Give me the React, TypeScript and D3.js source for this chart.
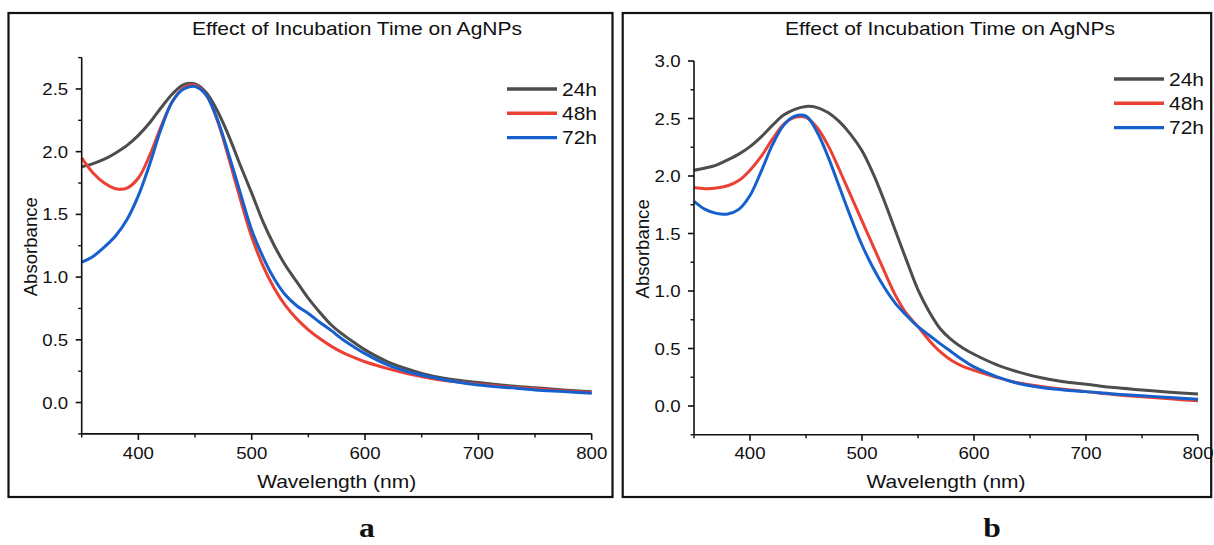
import * as d3 from 'd3';
import React from 'react';

// wavelength grid (nm) shared by every series
const wavelengths = [350, 360, 370, 380, 390, 400, 410, 420, 430, 440, 450, 460, 470, 480, 490, 500, 510, 520, 530, 540, 550, 560, 570, 580, 590, 600, 620, 640, 660, 680, 700, 725, 750, 775, 800];

const seriesNames = ['24h', '48h', '72h'];
const seriesColors = ['#4d4d4d', '#eb4034', '#1560cc'];

// panel a
const a24h = [1.88, 1.905, 1.94, 1.99, 2.05, 2.13, 2.23, 2.35, 2.46, 2.535, 2.54, 2.47, 2.32, 2.12, 1.89, 1.67, 1.44, 1.25, 1.09, 0.96, 0.83, 0.72, 0.62, 0.545, 0.48, 0.42, 0.325, 0.26, 0.21, 0.18, 0.16, 0.135, 0.118, 0.1, 0.086];
const a48h = [1.95, 1.83, 1.75, 1.705, 1.71, 1.79, 1.97, 2.2, 2.4, 2.51, 2.53, 2.45, 2.24, 1.94, 1.62, 1.32, 1.09, 0.91, 0.77, 0.665, 0.58, 0.51, 0.45, 0.4, 0.36, 0.325, 0.27, 0.225, 0.19, 0.165, 0.145, 0.125, 0.11, 0.095, 0.08];
const a72h = [1.12, 1.165, 1.24, 1.33, 1.46, 1.65, 1.9, 2.18, 2.4, 2.5, 2.52, 2.45, 2.25, 1.97, 1.67, 1.375, 1.16, 0.985, 0.855, 0.77, 0.71, 0.64, 0.575, 0.505, 0.445, 0.39, 0.3, 0.24, 0.2, 0.165, 0.14, 0.12, 0.1, 0.088, 0.075];

// panel b
const b24h = [2.05, 2.07, 2.095, 2.14, 2.19, 2.255, 2.34, 2.44, 2.53, 2.58, 2.605, 2.595, 2.55, 2.47, 2.36, 2.22, 2.02, 1.78, 1.52, 1.26, 1.01, 0.82, 0.67, 0.575, 0.505, 0.45, 0.36, 0.295, 0.245, 0.21, 0.19, 0.16, 0.14, 0.12, 0.104];
const b48h = [1.9, 1.89, 1.895, 1.915, 1.96, 2.05, 2.17, 2.32, 2.45, 2.51, 2.51, 2.42, 2.26, 2.05, 1.83, 1.61, 1.39, 1.17, 0.96, 0.8, 0.69, 0.57, 0.47, 0.395, 0.345, 0.31, 0.25, 0.2, 0.17, 0.145, 0.125, 0.1, 0.08, 0.062, 0.046];
const b72h = [1.78, 1.71, 1.675, 1.67, 1.71, 1.83, 2.04, 2.27, 2.44, 2.52, 2.52, 2.38, 2.16, 1.9, 1.64, 1.4, 1.2, 1.03, 0.89, 0.785, 0.69, 0.615, 0.54, 0.47, 0.4, 0.34, 0.255, 0.195, 0.16, 0.14, 0.125, 0.105, 0.09, 0.073, 0.058];

const xMajorTicks = [400, 500, 600, 700, 800];
const xMinorTicks = [350, 450, 550, 650, 750];
const yMajorTicksA = [0, 0.5, 1, 1.5, 2, 2.5];
const yMinorTicksA = [-0.25, 0.25, 0.75, 1.25, 1.75, 2.25, 2.75];
const yMajorTicksB = [0, 0.5, 1, 1.5, 2, 2.5, 3];
const yMinorTicksB = [-0.25, 0.25, 0.75, 1.25, 1.75, 2.25, 2.75];

const title = 'Effect of Incubation Time on AgNPs';
const xLabel = 'Wavelength (nm)';
const yLabel = 'Absorbance';

const SANS = '"Liberation Sans", Arial, sans-serif';
const SX = 1.13; // the figure is slightly stretched sideways

function SText({ x, y, size, anchor = 'middle', children, font = SANS, weight = 'normal' }) {
  return (
    <text
      transform={`translate(${x},${y}) scale(${SX},1)`}
      fontFamily={font}
      fontSize={size}
      fontWeight={weight}
      textAnchor={anchor}
      fill="#111"
    >
      {children}
    </text>
  );
}

function Panel({ box, plot, yDomain, yMajor, yMinor, series, legend, titleX, tag }) {
  const x = d3.scaleLinear().domain([350, 800]).range([plot.left, plot.right]);
  const y = d3.scaleLinear().domain(yDomain).range([plot.bottom, plot.top]);
  const line = d3.line<number>()
    .x((d, i) => x(wavelengths[i]))
    .y(d => y(d))
    .curve(d3.curveCatmullRom.alpha(0.5));
  const cx = (plot.left + plot.right) / 2;
  const cy = (plot.top + plot.bottom) / 2;

  return (
    <g>
      <rect x={box.x} y={box.y} width={box.w} height={box.h} fill="none" stroke="#111" strokeWidth={2.2} />
      <SText x={titleX} y={35} size={18.6}>{title}</SText>

      {series.map((s, i) => (
        <path key={seriesNames[i]} d={line(s)} fill="none" stroke={seriesColors[i]} strokeWidth={3} strokeLinejoin="round" />
      ))}

      {/* axes */}
      <line x1={plot.left} x2={plot.left} y1={plot.top} y2={plot.bottom} stroke="#111" strokeWidth={1.6} />
      <line x1={plot.left} x2={plot.right} y1={plot.bottom} y2={plot.bottom} stroke="#111" strokeWidth={1.6} />
      {xMajorTicks.map(t => (
        <g key={'xM' + t}>
          <line x1={x(t)} x2={x(t)} y1={plot.bottom} y2={plot.bottom + 6} stroke="#111" strokeWidth={1.6} />
          <SText x={x(t)} y={459} size={16.5}>{t}</SText>
        </g>
      ))}
      {xMinorTicks.map(t => (
        <line key={'xm' + t} x1={x(t)} x2={x(t)} y1={plot.bottom} y2={plot.bottom + 3.5} stroke="#111" strokeWidth={1.4} />
      ))}
      {yMajor.map(t => (
        <g key={'yM' + t}>
          <line x1={plot.left - 6} x2={plot.left} y1={y(t)} y2={y(t)} stroke="#111" strokeWidth={1.6} />
          <SText x={plot.left - 13.5} y={y(t) + 6} size={16.5} anchor="end">{t.toFixed(1)}</SText>
        </g>
      ))}
      {yMinor.map(t => (
        <line key={'ym' + t} x1={plot.left - 3.5} x2={plot.left} y1={y(t)} y2={y(t)} stroke="#111" strokeWidth={1.4} />
      ))}

      <SText x={cx} y={488} size={18.6}>{xLabel}</SText>
      <text
        transform={`translate(${plot.left - 45},${cy + 1}) rotate(-90)`}
        fontFamily={SANS}
        fontSize={18.6}
        textAnchor="middle"
        fill="#111"
      >
        {yLabel}
      </text>

      {/* legend */}
      {seriesNames.map((name, i) => (
        <g key={'lg' + name}>
          <line
            x1={legend.x}
            x2={legend.x + 50}
            y1={legend.y + i * 24.3}
            y2={legend.y + i * 24.3}
            stroke={seriesColors[i]}
            strokeWidth={3.4}
          />
          <SText x={legend.x + 55} y={legend.y + i * 24.3 + 6.6} size={18.6} anchor="start">{name}</SText>
        </g>
      ))}

      <SText x={tag.x} y={537} size={28} font='"Liberation Serif", "Times New Roman", serif' weight="bold">{tag.label}</SText>
    </g>
  );
}

export default function App() {
  return (
    <svg
      width={1214}
      height={545}
      viewBox="0 0 1214 545"
      style={{ position: 'absolute', left: 0, top: 0, background: '#fff' }}
    >
      <rect x={0} y={0} width={1214} height={545} fill="#fff" />
      <Panel
        box={{ x: 8.5, y: 13, w: 604, h: 484 }}
        plot={{ left: 81.7, right: 591.7, top: 57.6, bottom: 433.9 }}
        yDomain={[-0.25, 2.75]}
        yMajor={yMajorTicksA}
        yMinor={yMinorTicksA}
        series={[a24h, a48h, a72h]}
        legend={{ x: 507, y: 89 }}
        titleX={357}
        tag={{ x: 367, label: 'a' }}
      />
      <Panel
        box={{ x: 622.7, y: 13, w: 588.5, h: 484 }}
        plot={{ left: 694, right: 1198, top: 61, bottom: 434.75 }}
        yDomain={[-0.25, 3.0]}
        yMajor={yMajorTicksB}
        yMinor={yMinorTicksB}
        series={[b24h, b48h, b72h]}
        legend={{ x: 1114, y: 79 }}
        titleX={950}
        tag={{ x: 992, label: 'b' }}
      />
    </svg>
  );
}
